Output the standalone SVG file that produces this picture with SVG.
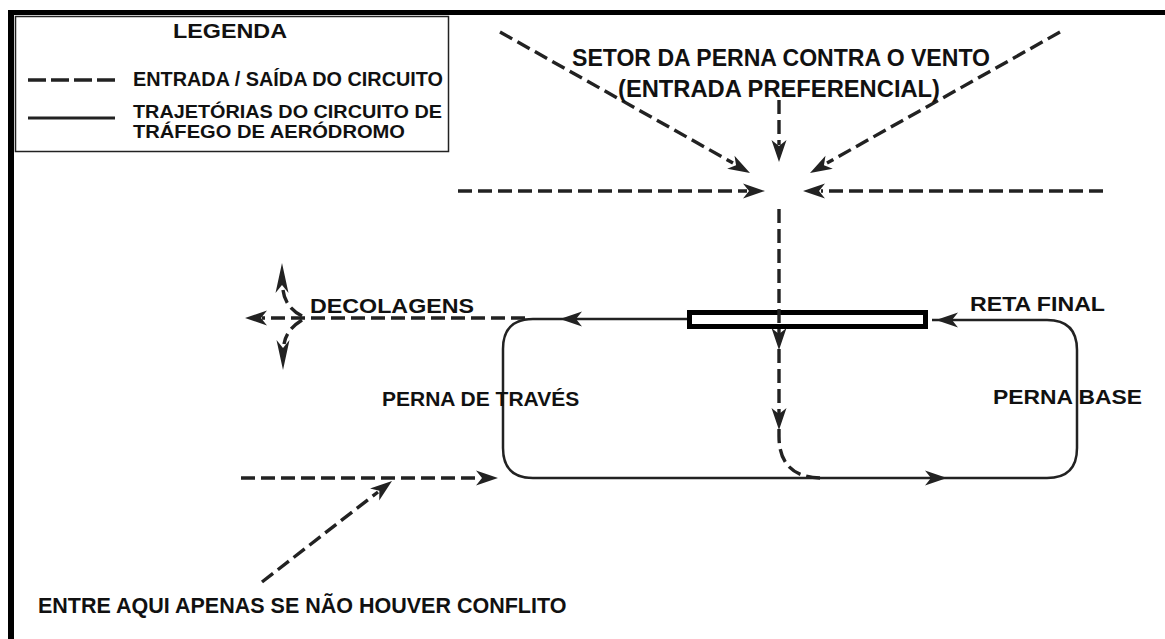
<svg xmlns="http://www.w3.org/2000/svg" xmlns:xlink="http://www.w3.org/1999/xlink" width="1165" height="639" viewBox="0 0 1165 639">
<style>
  text { font-family: "Liberation Sans", Arial, sans-serif; font-weight: bold; fill: #111; }
  .t { font-size: 21px; }
  .lg { font-size: 20px; }
  .lg2 { font-size: 19px; }
  .top { font-size: 24px; }
  .dash { fill: none; stroke: #222; stroke-width: 3.4; stroke-dasharray: 14 6; }
  .solid { fill: none; stroke: #222; stroke-width: 2.5; }
  .frame { fill: none; stroke: #000; }
  .ah { fill: #222; }
</style>
<defs>
  <path id="ah" class="ah" d="M0,0 L-22,-7.5 L-16,0 L-22,7.5 Z"/>
  <path id="ahl" class="ah" d="M0,0 L-30,-6.5 L-22,0 L-30,6.5 Z"/>
</defs>
<rect width="1165" height="639" fill="#fff"/>
<g id="frame">
  <line class="frame" x1="8" y1="12.5" x2="1165" y2="12.5" stroke-width="5"/>
  <line class="frame" x1="11" y1="10" x2="11" y2="639" stroke-width="6"/>
</g>
<g id="legend">
  <rect x="15.5" y="16.5" width="433" height="135" fill="#fff" stroke="#222" stroke-width="1.5"/>
  <text x="230" y="38" text-anchor="middle" style="font-size:20.5px" textLength="114" lengthAdjust="spacingAndGlyphs">LEGENDA</text>
  <line x1="28" y1="80" x2="115" y2="80" stroke="#222" stroke-width="3.4" stroke-dasharray="18 5"/>
  <text class="lg" x="133" y="86" textLength="310" lengthAdjust="spacingAndGlyphs">ENTRADA / SAÍDA DO CIRCUITO</text>
  <line x1="28" y1="118" x2="115" y2="118" stroke="#222" stroke-width="3"/>
  <text class="lg2" x="133" y="118" textLength="309" lengthAdjust="spacingAndGlyphs">TRAJETÓRIAS DO CIRCUITO DE</text>
  <text class="lg2" x="133" y="138" textLength="272" lengthAdjust="spacingAndGlyphs">TRÁFEGO DE AERÓDROMO</text>
</g>
<g id="runway">
  <rect x="689.5" y="312.5" width="236" height="14" fill="#fff" stroke="#000" stroke-width="5"/>
</g>
<g id="connectors">
  <line class="dash" x1="500" y1="32" x2="733" y2="163"/>
  <use xlink:href="#ah" transform="translate(750,173) rotate(29.4)"/>
  <line class="dash" x1="1060" y1="32" x2="827" y2="163"/>
  <use xlink:href="#ah" transform="translate(810,173) rotate(150.6)"/>
  <line class="dash" x1="779" y1="100" x2="779" y2="145"/>
  <use xlink:href="#ah" transform="translate(779,162) rotate(90)"/>
  <line class="dash" x1="458" y1="191" x2="747" y2="191"/>
  <use xlink:href="#ah" transform="translate(765,191)"/>
  <line class="dash" x1="1103" y1="191" x2="821" y2="191"/>
  <use xlink:href="#ah" transform="translate(803,191) rotate(180)"/>
  <path class="dash" d="M779,209 L779,436 Q779,478 822,478"/>
  <use xlink:href="#ah" transform="translate(779,350) rotate(90)"/>
  <use xlink:href="#ah" transform="translate(779,430) rotate(90)"/>
  <path class="solid" d="M687,319 L533,319 Q503,319 503,349 L503,448 Q503,478 533,478 L1047,478 Q1077,478 1077,448 L1077,350 Q1077,320 1047,320 L932,320"/>
  <use xlink:href="#ah" transform="translate(560,319) rotate(180)"/>
  <use xlink:href="#ah" transform="translate(936,320) rotate(180)"/>
  <use xlink:href="#ah" transform="translate(947,478)"/>
  <line class="dash" x1="525" y1="318" x2="262" y2="318"/>
  <use xlink:href="#ah" transform="translate(245,318) rotate(180)"/>
  <path class="dash" d="M302,316 Q285,307 283,290" stroke-dasharray="10 5"/>
  <use xlink:href="#ahl" transform="translate(282,263) rotate(-90)"/>
  <path class="dash" d="M302,320 Q286,330 284,344" stroke-dasharray="10 5"/>
  <use xlink:href="#ahl" transform="translate(283,370) rotate(90)"/>
  <line class="dash" x1="241" y1="478" x2="480" y2="478"/>
  <use xlink:href="#ah" transform="translate(498,478)"/>
  <line class="dash" x1="262" y1="582" x2="378" y2="492"/>
  <use xlink:href="#ah" transform="translate(392,481) rotate(-37.8)"/>
</g>
<g id="labels">
  <text class="top" x="781" y="66" text-anchor="middle" textLength="418" lengthAdjust="spacingAndGlyphs">SETOR DA PERNA CONTRA O VENTO</text>
  <text class="top" x="779" y="97" text-anchor="middle" textLength="322" lengthAdjust="spacingAndGlyphs">(ENTRADA PREFERENCIAL)</text>
  <text class="t" x="310" y="313" textLength="164" lengthAdjust="spacingAndGlyphs">DECOLAGENS</text>
  <text class="t" x="382" y="406">PERNA DE TRAVÉS</text>
  <text class="t" x="970" y="311" textLength="135" lengthAdjust="spacingAndGlyphs">RETA FINAL</text>
  <text class="t" x="993" y="404" textLength="149" lengthAdjust="spacingAndGlyphs">PERNA BASE</text>
  <text class="t" x="38" y="613" style="font-size:21.5px">ENTRE AQUI APENAS SE NÃO HOUVER CONFLITO</text>
</g>
</svg>
